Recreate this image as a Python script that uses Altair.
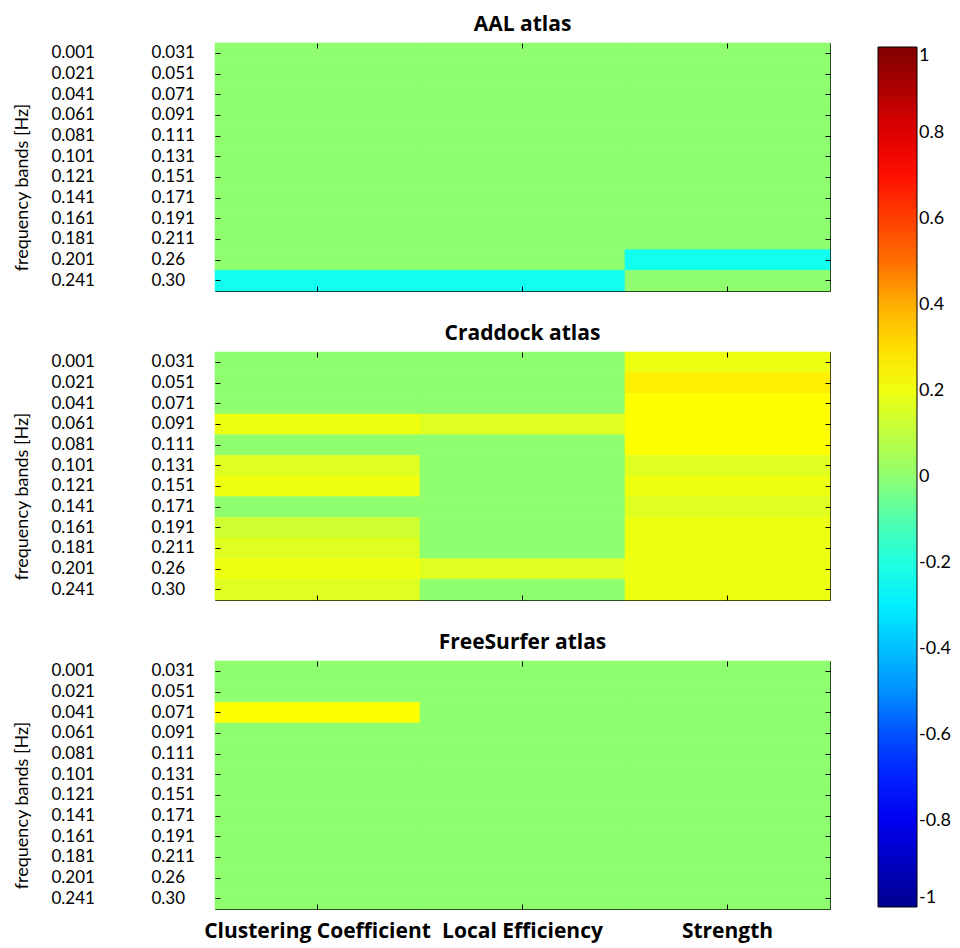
import altair as alt
import pandas as pd

metrics = ["Clustering Coefficient", "Local Efficiency", "Strength"]
band_low = ["0.001", "0.021", "0.041", "0.061", "0.081", "0.101",
            "0.121", "0.141", "0.161", "0.181", "0.201", "0.241"]
band_high = ["0.031", "0.051", "0.071", "0.091", "0.111", "0.131",
             "0.151", "0.171", "0.191", "0.211", "0.26", "0.30"]
atlases = ["AAL atlas", "Craddock atlas", "FreeSurfer atlas"]

# values per atlas, per metric, rows top (0.001) to bottom (0.241)
aal_cc = [0, 0, 0, 0, 0, 0, 0, 0, 0, 0, 0, -0.24]
aal_le = [0, 0, 0, 0, 0, 0, 0, 0, 0, 0, 0, -0.24]
aal_st = [0, 0, 0, 0, 0, 0, 0, 0, 0, 0, -0.24, 0]

crad_cc = [0, 0, 0, 0.20, 0, 0.17, 0.20, 0, 0.14, 0.17, 0.20, 0.17]
crad_le = [0, 0, 0, 0.17, 0, 0, 0, 0, 0, 0, 0.17, 0]
crad_st = [0.20, 0.265, 0.235, 0.235, 0.235, 0.17, 0.20, 0.17, 0.20, 0.20, 0.20, 0.20]

fs_cc = [0, 0, 0.235, 0, 0, 0, 0, 0, 0, 0, 0, 0]
fs_le = [0, 0, 0, 0, 0, 0, 0, 0, 0, 0, 0, 0]
fs_st = [0, 0, 0, 0, 0, 0, 0, 0, 0, 0, 0, 0]

legend_ticks = [-1, -0.8, -0.6, -0.4, -0.2, 0, 0.2, 0.4, 0.6, 0.8, 1]

bands = [f"{lo}|{hi}" for lo, hi in zip(band_low, band_high)]
series = {
    "AAL atlas": [aal_cc, aal_le, aal_st],
    "Craddock atlas": [crad_cc, crad_le, crad_st],
    "FreeSurfer atlas": [fs_cc, fs_le, fs_st],
}
rows = []
for atlas in atlases:
    for m, vals in zip(metrics, series[atlas]):
        for b, v in zip(bands, vals):
            rows.append({"atlas": atlas, "metric": m, "band": b, "value": v})
df = pd.DataFrame(rows)


def jet(m=64):
    # MATLAB-style jet colormap with m levels
    n = -(-m // 4)
    u = [i / n for i in range(1, n + 1)] + [1.0] * (n - 1) + [i / n for i in range(n, 0, -1)]
    g0 = -(-n // 2) - (1 if m % 4 == 1 else 0)
    J = [[0.0, 0.0, 0.0] for _ in range(m)]
    for k, val in enumerate(u):
        gi = g0 + k + 1
        for ch, idx in ((0, gi + n), (1, gi), (2, gi - n)):
            if 1 <= idx <= m:
                J[idx - 1][ch] = val
    return ["#%02x%02x%02x" % tuple(round(c * 255) for c in row) for row in J]


# stepwise (64-level) colour scale over [-1, 1], like a MATLAB colormap
JET = jet(64)
step_domain, step_range = [], []
for k, c in enumerate(JET):
    lo = -1 + k / 32
    hi = -1 + (k + 1) / 32
    step_domain += [lo, hi if k == 63 else hi - 1e-6]
    step_range += [c, c]

FONT = "Lato"
BOLD = "Open Sans"
H = 248

cscale = alt.Scale(domain=step_domain, range=step_range, interpolate="rgb")
legend = alt.Legend(
    title=None, orient="right", direction="vertical",
    gradientLength=860, gradientThickness=39, offset=43, padding=4,
    values=legend_ticks, labelOverlap=False,
    labelExpr="datum.value < 0 ? '-' + format(-datum.value, '') : format(datum.value, '')",
    labelFont=FONT, labelFontSize=18, labelColor="black",
    gradientStrokeColor="black", gradientStrokeWidth=1,
)


def panel(atlas, last):
    d = df[df.atlas == atlas]
    base = alt.Chart(d)
    xs = alt.Scale(paddingInner=0, paddingOuter=0)
    ys = alt.Scale(paddingInner=0, paddingOuter=0)
    l1 = base.mark_rect(
        stroke=alt.ExprRef("scale('color', datum.value)"), strokeWidth=0.6
    ).encode(
        x=alt.X("metric:N", sort=metrics, scale=xs,
                axis=alt.Axis(orient="bottom", offset=-5, tickSize=5, domain=False,
                              labels=last, labelAngle=0, labelFont=BOLD,
                              labelFontSize=21, labelFontWeight="bold",
                              labelPadding=11, labelOverlap=False, labelLimit=400,
                              labelColor="black", tickColor="black", title=None)),
        y=alt.Y("band:N", sort=bands, scale=ys,
                axis=alt.Axis(orient="left", offset=-5, tickSize=5, domain=False,
                              labelAlign="left", labelPadding=164,
                              labelExpr="split(datum.label, '|')[0]",
                              labelFont=FONT, labelFontSize=17, labelColor="black",
                              tickColor="black",
                              title="frequency bands [Hz]", titleFont=FONT,
                              titleFontSize=18, titleFontWeight="normal",
                              titleColor="black", titlePadding=20, titleY=H / 2 + 20)),
        color=alt.Color("value:Q", scale=cscale, legend=legend),
    )
    l2 = base.mark_rect(opacity=0).encode(
        x=alt.X("metric:N", sort=metrics, scale=xs,
                axis=alt.Axis(orient="top", offset=-5, tickSize=5, domain=False,
                              labels=False, tickColor="black", title=None)),
        y=alt.Y("band:N", sort=bands, scale=ys,
                axis=alt.Axis(orient="left", offset=-5, ticks=False, domain=False,
                              labelAlign="left", labelPadding=69,
                              labelExpr="split(datum.label, '|')[1]",
                              labelFont=FONT, labelFontSize=17, labelColor="black",
                              title=None)),
    )
    l3 = base.mark_rect(opacity=0).encode(
        x=alt.X("metric:N", sort=metrics, scale=xs, axis=None),
        y=alt.Y("band:N", sort=bands, scale=ys,
                axis=alt.Axis(orient="right", offset=-5, tickSize=5, domain=False,
                              labels=False, tickColor="black", title=None)),
    )
    return alt.layer(l1, l2, l3).resolve_scale(
        x="independent", y="independent"
    ).properties(
        width=615, height=H,
        title=alt.TitleParams(atlas, font=BOLD, fontSize=21, fontWeight="bold",
                              color="black", offset=8, anchor="middle"),
    )


chart = alt.vconcat(
    panel(atlases[0], False),
    panel(atlases[1], False),
    panel(atlases[2], True),
    spacing=30,
).properties(
    padding={"left": 12, "top": 13, "right": 5, "bottom": 5},
).configure_view(
    stroke="black", strokeWidth=1,
).configure_axis(
    grid=False,
)

chart.save("out.html", embed_options={"renderer": "svg", "actions": False})
